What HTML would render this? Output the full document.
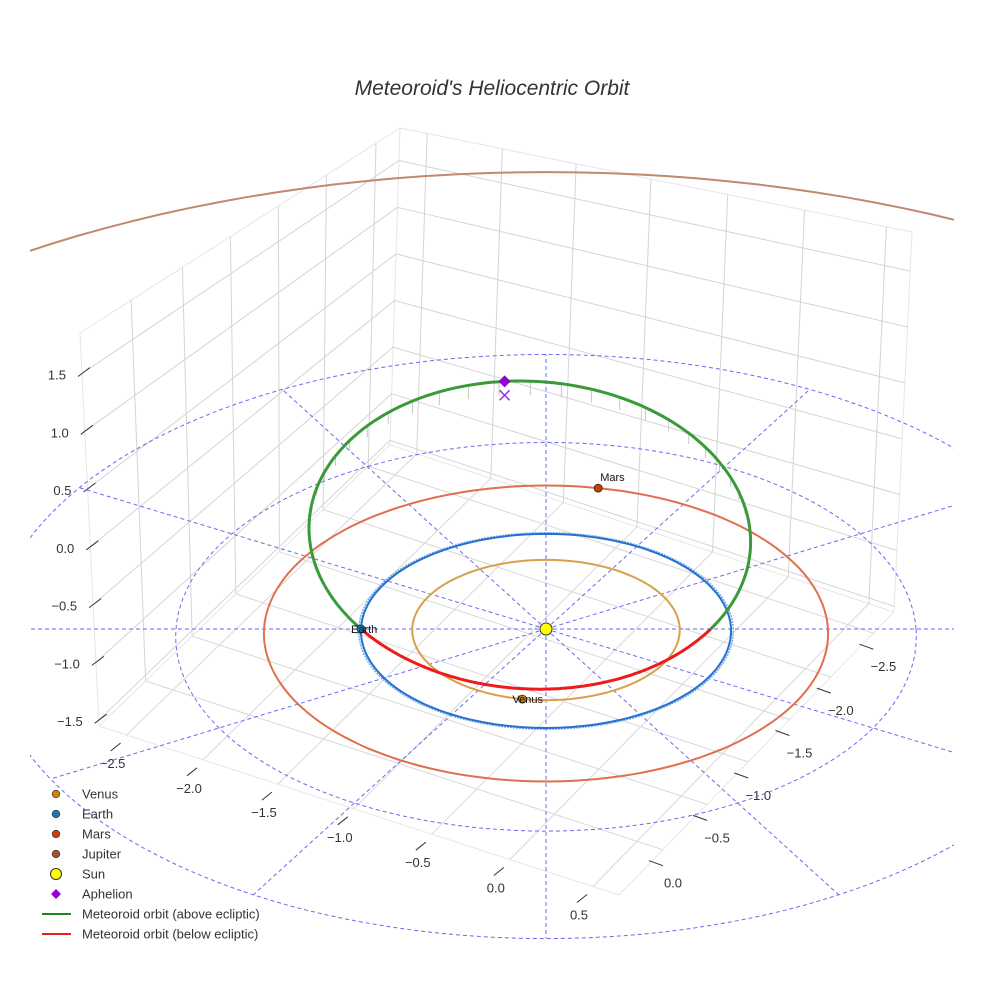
<!DOCTYPE html>
<html><head><meta charset="utf-8"><style>
html,body{margin:0;padding:0;background:#fff;width:984px;height:984px;overflow:hidden}
svg{display:block;font-family:"Liberation Sans",sans-serif;overflow:hidden}
</style></head><body>
<svg id="chart" width="984" height="984" viewBox="0 0 984 984">
<defs><clipPath id="plotclip"><rect x="30" y="0" width="924" height="984"/></clipPath></defs>
<text x="492" y="95" text-anchor="middle" font-size="21" font-style="italic" fill="#333">Meteoroid's Heliocentric Orbit</text>
<g id="box"></g>
<g id="ecl" clip-path="url(#plotclip)"></g>
<g id="orbits" clip-path="url(#plotclip)"></g>
<g id="met"></g>
<g id="marks"></g>
<g id="legend"></g>
</svg>
<script>
// ---- data ----
const planetNames = ["Venus","Earth","Mars","Jupiter"];
const planetRadii = [0.723,1.0,1.524,5.2];
const planetAngles = [-100,180,79,null];
const planetOrbitColors = ["#d9a04a","#2a6fd0","#e0704c","#c08a6c"];
const planetMarkerColors = ["#d4820a","#1f77b4","#cc3d0a","#a0522d"];
const gridRingRadii = [2,3];
const gridSpokeAngles = [0,30,60,90,120,150,180,210,240,270,300,330];
const metSemiLatus = 0.942, metEcc = 0.63, metArgPeri = 264.7, metIncl = 3;
const leftAxisTicks = ["−2.5","−2.0","−1.5","−1.0","−0.5","0.0","0.5"];
const rightAxisTicks = ["0.0","−0.5","−1.0","−1.5","−2.0","−2.5"];
const zTicks = ["1.5","1.0","0.5","0.0","−0.5","−1.0","−1.5"];
const zTickValues = [1.5,1.0,0.5,0.0,-0.5,-1.0,-1.5];
const legendLabels = ["Venus","Earth","Mars","Jupiter","Sun","Aphelion","Meteoroid orbit (above ecliptic)","Meteoroid orbit (below ecliptic)"];

const NS="http://www.w3.org/2000/svg";
function mk(parent,tag,attrs){const e=document.createElementNS(NS,tag);for(const k in attrs)e.setAttribute(k,attrs[k]);parent.appendChild(e);return e;}
function proj(x,y,z){const f=1/(1+0.02*y);return [546+185*x*f,629-97*y*f-110*z*f];}
function lerp(a,b,t){return [a[0]+(b[0]-a[0])*t,a[1]+(b[1]-a[1])*t];}
function bil(p00,p10,p01,p11,u,v){return lerp(lerp(p00,p10,u),lerp(p01,p11,u),v);}

// ---- box ----
const box=document.getElementById('box');
const Lb=[99,726],Lt=[80,333],Bt=[400,128],Bb=[390,445],Rt=[912,232],Rb=[894,612],F=[619,895];
const zMin=-1.55,zMax=1.85;
const leftU=[0.16,0.32,0.47,0.62,0.77,0.925];
const rightW=[0.053,0.2,0.344,0.49,0.64,0.79,0.95];
function line(g,a,b,st,w,name){const l=mk(g,'line',{x1:a[0].toFixed(1),y1:a[1].toFixed(1),x2:b[0].toFixed(1),y2:b[1].toFixed(1),stroke:st,'stroke-width':w});return l;}
[[Lb,Lt],[Bb,Bt],[Rb,Rt],[Lt,Bt],[Bt,Rt],[Lb,Bb],[Bb,Rb],[Lb,F],[F,Rb]].forEach(e=>line(box,e[0],e[1],'#e6e6e6',1,'box-edge'));
leftU.forEach(u=>{line(box,lerp(Lb,Bb,u),lerp(Lt,Bt,u),'#d4d4d4',1,'left-wall-gridline');});
rightW.forEach(w=>{line(box,lerp(Bb,Rb,w),lerp(Bt,Rt,w),'#d4d4d4',1,'right-wall-gridline');});
zTickValues.forEach(z=>{const v=(z-zMin)/(zMax-zMin);
  const a=lerp(Lb,Lt,v),b=lerp(Bb,Bt,v),c=lerp(Rb,Rt,v);
  line(box,a,b,'#d4d4d4',1,'z-gridline-left');line(box,b,c,'#d4d4d4',1,'z-gridline-right');});
leftU.forEach(u=>line(box,bil(Lb,Bb,F,Rb,u,0),bil(Lb,Bb,F,Rb,u,1),'#d8d8d8',1,'floor-gridline'));
rightW.forEach(w=>line(box,bil(Lb,Bb,F,Rb,0,w),bil(Lb,Bb,F,Rb,1,w),'#d8d8d8',1,'floor-gridline'));
rightW.forEach((w,i)=>{const p=lerp(Lb,F,w);
  line(box,[p[0]-16,p[1]+16],[p[0]-6,p[1]+8],'#333',1,'x-tick');
  const t=mk(box,'text',{x:(p[0]-14).toFixed(1),y:(p[1]+33).toFixed(1),'font-size':13,'text-anchor':'middle',fill:'#333'});
  t.textContent=leftAxisTicks[i];});
leftU.forEach((u,i)=>{const p=lerp(F,Rb,u);
  line(box,[p[0]-14,p[1]+11],[p[0],p[1]+16],'#333',1,'y-tick');
  const t=mk(box,'text',{x:(p[0]+10).toFixed(1),y:(p[1]+38).toFixed(1),'font-size':13,'text-anchor':'middle',fill:'#333'});
  t.textContent=rightAxisTicks[i];});
zTickValues.forEach((z,i)=>{const v=(z-zMin)/(zMax-zMin);const p=lerp(Lb,Lt,v);
  line(box,[p[0]-4,p[1]+3],[p[0]+8,p[1]-6],'#333',1,'z-tick');
  const t=mk(box,'text',{x:(p[0]-16).toFixed(1),y:(p[1]+6).toFixed(1),'font-size':13,'text-anchor':'end',fill:'#333'});
  t.textContent=zTicks[i];});

// ---- ecliptic grid ----
const ecl=document.getElementById('ecl');
function circlePath(r,z){let d='';for(let k=0;k<=360;k+=2){const a=k*Math.PI/180;const p=proj(r*Math.cos(a),r*Math.sin(a),z||0);d+=(k?'L':'M')+p[0].toFixed(1)+' '+p[1].toFixed(1);}return d;}
gridRingRadii.forEach(r=>{const e=mk(ecl,'path',{d:circlePath(r),fill:'none',stroke:'#6a6af0','stroke-width':1,'stroke-dasharray':'4,3'});
  });
gridSpokeAngles.forEach(ang=>{const a=ang*Math.PI/180;const R=gridRingRadii[gridRingRadii.length-1];
  const p=proj(R*Math.cos(a),R*Math.sin(a),0);
  const e=mk(ecl,'line',{x1:546,y1:629,x2:p[0].toFixed(1),y2:p[1].toFixed(1),stroke:'#6a6af0','stroke-width':1,'stroke-dasharray':'4,3'});
  });

// ---- planet orbits ----
const orb=document.getElementById('orbits');
planetRadii.forEach((r,i)=>{
  if(i===1){const e2=mk(orb,'path',{d:circlePath(r*1.012),fill:'none',stroke:'#6aaee6','stroke-width':1.5,'stroke-dasharray':'2,1'});
    }
  const e=mk(orb,'path',{d:circlePath(r),fill:'none',stroke:planetOrbitColors[i],'stroke-width':2});
  });

// ---- meteoroid ----
const met=document.getElementById('met');
const inc=metIncl*Math.PI/180;
function metPos(uDeg){const u=uDeg*Math.PI/180;const nu=u-metArgPeri*Math.PI/180;
  const r=metSemiLatus/(1+metEcc*Math.cos(nu));
  return [-r*Math.cos(u),r*Math.sin(u)*Math.cos(inc),r*Math.sin(u)*Math.sin(inc)];}
for(let u=12;u<=170;u+=4){const q=metPos(u);const a=proj(q[0],q[1],q[2]),b=proj(q[0],q[1],0);
  const l=mk(met,'line',{x1:a[0].toFixed(1),y1:a[1].toFixed(1),x2:b[0].toFixed(1),y2:b[1].toFixed(1),stroke:'#c8c8c8','stroke-width':1});
  }
function metPath(u0,u1){let d='';for(let u=u0;u<=u1+0.01;u+=1){const q=metPos(u);const p=proj(q[0],q[1],q[2]);d+=(u===u0?'M':'L')+p[0].toFixed(1)+' '+p[1].toFixed(1);}return d;}
const gp=mk(met,'path',{d:metPath(0,180),fill:'none',stroke:'#3a9a3a','stroke-width':3});

const rp=mk(met,'path',{d:metPath(180,360),fill:'none',stroke:'#f01a1a','stroke-width':3});


// ---- markers ----
const mg=document.getElementById('marks');
planetRadii.forEach((r,i)=>{if(planetAngles[i]===null)return;const a=planetAngles[i]*Math.PI/180;
  const p=proj(r*Math.cos(a),r*Math.sin(a),0);
  const c=mk(mg,'circle',{cx:p[0].toFixed(1),cy:p[1].toFixed(1),r:4,fill:planetMarkerColors[i],stroke:'#222','stroke-width':0.8});
  
  const t=mk(mg,'text',{x:(p[0]+(i===2?2:-10)).toFixed(1),y:(p[1]-(i===2?7:-4)).toFixed(1),'font-size':11,fill:'#111'});
  t.textContent=planetNames[i];});
const sun=mk(mg,'circle',{cx:546,cy:629,r:6,fill:'#ffff00',stroke:'#333','stroke-width':1});

const apU=metArgPeri+180-360;const aq=metPos(apU);const ap=proj(aq[0],aq[1],aq[2]);const ax=proj(aq[0],aq[1],0);
const dia=mk(mg,'path',{d:`M${ap[0]} ${ap[1]-6}L${ap[0]+6} ${ap[1]}L${ap[0]} ${ap[1]+6}L${ap[0]-6} ${ap[1]}Z`,fill:'#9400d3'});

const xm=mk(mg,'path',{d:`M${ax[0]-5} ${ax[1]-5}L${ax[0]+5} ${ax[1]+5}M${ax[0]+5} ${ax[1]-5}L${ax[0]-5} ${ax[1]+5}`,stroke:'#9a30d8','stroke-width':1.5});


// ---- legend ----
const lg=document.getElementById('legend');
legendLabels.forEach((lab,i)=>{const y=794+i*20;
  const g=mk(lg,'g',{});
  if(i<4){mk(g,'circle',{cx:56,cy:y,r:3.8,fill:planetMarkerColors[i],stroke:'#333','stroke-width':0.7});}
  else if(i===4){mk(g,'circle',{cx:56,cy:y,r:5.5,fill:'#ffff00',stroke:'#333','stroke-width':1});}
  else if(i===5){mk(g,'path',{d:`M56 ${y-5}L61 ${y}L56 ${y+5}L51 ${y}Z`,fill:'#9400d3'});}
  else{mk(g,'line',{x1:42,y1:y,x2:71,y2:y,stroke:i===6?'#1a8a1a':'#e82020','stroke-width':2});}
  const t=mk(g,'text',{x:82,y:y+4.5,'font-size':13,fill:'#333'});t.textContent=lab;});
</script>
</body></html>
